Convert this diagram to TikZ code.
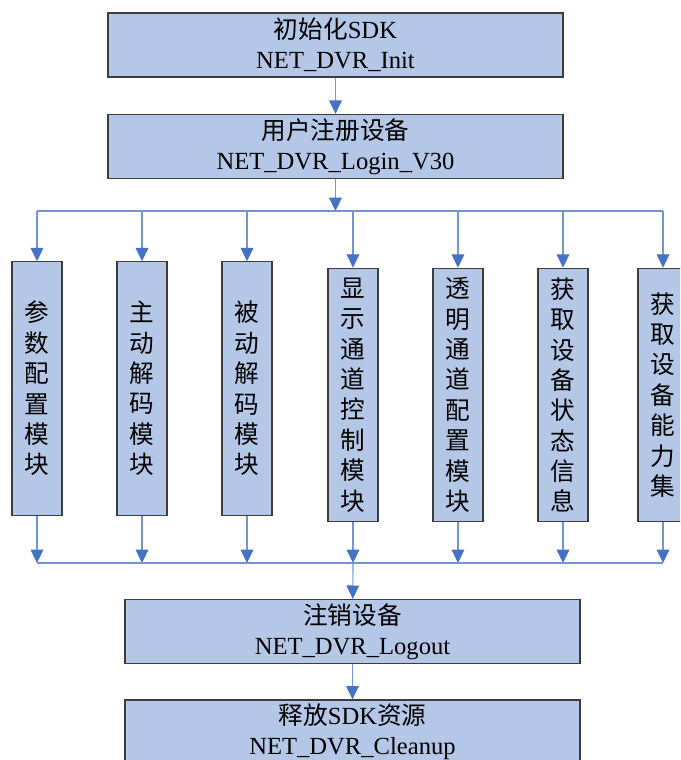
\documentclass[tikz,border=0pt]{standalone}
\usepackage{fontspec}
\setmainfont{Liberation Serif}
\newfontfamily\cjk{Noto Sans CJK SC}
\usetikzlibrary{arrows.meta}
\definecolor{boxfill}{RGB}{180,199,231}
\definecolor{boxline}{RGB}{60,60,60}
\definecolor{flowline}{RGB}{112,150,212}
\definecolor{tipcol}{RGB}{68,114,196}

\begin{document}
\begin{tikzpicture}[x=0.025cm,y=-0.025cm,
  stage/.style={draw=boxline,fill=boxfill,line width=0.9pt,minimum width=11.375cm,minimum height=1.6cm,
    align=center,inner sep=0pt,font=\fontsize{17.5}{21.5}\selectfont},
  module/.style={draw=boxline,fill=boxfill,line width=0.9pt,minimum width=1.25cm,minimum height=6.33cm,
    align=center,inner sep=0pt,font=\cjk\fontsize{17.5}{21.6}\selectfont},
  bus/.style={draw=flowline,line width=0.8pt},
  flow/.style={bus,-{Triangle[length=9.5pt,width=9pt,color=tipcol]}}]
\useasboundingbox (0,0) rectangle (680,760);
\clip (0,0) rectangle (680,760);

\node[stage] (init) at (335.5,45) {{\cjk 初始化}SDK\\NET\_DVR\_Init};
\node[stage] (login) at (335.5,146.5) {{\cjk 用户注册设备}\\NET\_DVR\_Login\_V30};

\node[module] (m1) at (37,388.5) {参\\数\\配\\置\\模\\块};
\node[module] (m2) at (142,388.5) {主\\动\\解\\码\\模\\块};
\node[module] (m3) at (247,388.5) {被\\动\\解\\码\\模\\块};
\node[module] (m4) at (353,395) {显\\示\\通\\道\\控\\制\\模\\块};
\node[module] (m5) at (458,395) {透\\明\\通\\道\\配\\置\\模\\块};
\node[module] (m6) at (563,395) {获\\取\\设\\备\\状\\态\\信\\息};
\node[module] (m7) at (663,395) {获\\取\\设\\备\\能\\力\\集};

\node[stage] (logout) at (352.5,631.5) {{\cjk 注销设备}\\NET\_DVR\_Logout};
\node[stage] (cleanup) at (352.5,732) {{\cjk 释放}SDK{\cjk 资源}\\NET\_DVR\_Cleanup};

\coordinate (split) at (335.5,211);
\coordinate (merge) at (353,563);

\draw[flow] (init) -- (login);
\draw[flow] (login) -- (split);
\draw[bus] (m1.north |- split) -- (m7.north |- split);
\foreach \i in {1,...,7}
  \draw[flow] (m\i.north |- split) -- (m\i.north);
\foreach \i in {1,...,7}
  \draw[flow] (m\i.south) -- (m\i.south |- merge);
\draw[bus] (m1.south |- merge) -- (m7.south |- merge);
\draw[flow] (merge) -- (logout);
\draw[flow] (logout) -- (cleanup);
\end{tikzpicture}
\end{document}
